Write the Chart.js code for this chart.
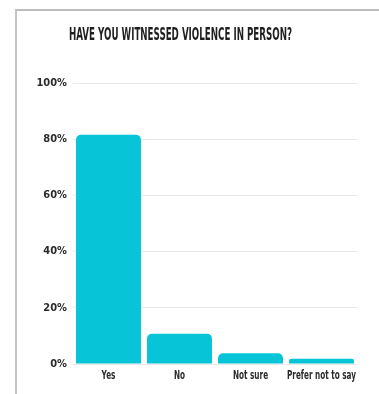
<!DOCTYPE html>
<html>
<head>
<meta charset="utf-8">
<script src="https://cdn.jsdelivr.net/npm/chart.js@4/dist/chart.umd.min.js"></script>
<style>
  html, body { margin: 0; padding: 0; background: #ffffff; width: 379px; height: 394px; overflow: hidden; }
  #frame { position: absolute; left: 15px; top: 9px; width: 364px; height: 385px; border-top: 2px solid #bdbdbd; border-left: 2px solid #c4c4c4; box-sizing: border-box; }
  #wrap { position: absolute; left: 0; top: 0; width: 379px; height: 394px; }
</style>
</head>
<body>
<div id="frame"></div>
<div id="wrap"><canvas id="c" width="379" height="394"></canvas></div>
<script>
const titleText = "HAVE YOU WITNESSED VIOLENCE IN PERSON?";
const categories = ["Yes", "No", "Not sure", "Prefer not to say"];
const percentValues = [81.6, 10.8, 3.8, 1.9];
const yTickValues = [0, 20, 40, 60, 80, 100];

const condensedFont = '"DejaVu Sans Condensed", sans-serif';

const textPlugin = {
  id: 'condensedText',
  afterDraw(chart) {
    const ctx = chart.ctx;
    // Title
    ctx.save();
    ctx.font = 'bold 18px ' + condensedFont;
    ctx.fillStyle = '#1f1f1f';
    ctx.textBaseline = 'alphabetic';
    ctx.textAlign = 'left';
    const w = ctx.measureText(titleText).width;
    ctx.translate(69, 40);
    ctx.scale(223 / w, 1);
    ctx.fillText(titleText, 0, 0);
    ctx.restore();

    // Category labels (condensed)
    const xs = chart.scales.x;
    ctx.save();
    ctx.font = 'bold 12px ' + condensedFont;
    ctx.fillStyle = '#2b2b2b';
    ctx.textBaseline = 'alphabetic';
    ctx.textAlign = 'center';
    const ref = ctx.measureText(categories[categories.length - 1]).width;
    const sx = 69 / ref;
    categories.forEach((lab, i) => {
      const px = xs.getPixelForTick(i);
      ctx.save();
      ctx.translate(px, 379);
      ctx.scale(sx, 1);
      ctx.fillText(lab, 0, 0);
      ctx.restore();
    });
    ctx.restore();
  }
};

new Chart(document.getElementById('c'), {
  type: 'bar',
  data: {
    labels: categories,
    datasets: [{
      data: percentValues,
      backgroundColor: '#07c5d6',
      borderRadius: { topLeft: 5, topRight: 5, bottomLeft: 0, bottomRight: 0 },
      borderSkipped: 'start',
      categoryPercentage: 1.0,
      barPercentage: 0.915
    }]
  },
  options: {
    responsive: false,
    animation: false,
    devicePixelRatio: 1,
    layout: { padding: { top: 83, right: 22, left: 0, bottom: 0 } },
    plugins: { legend: { display: false }, title: { display: false }, tooltip: { enabled: false } },
    scales: {
      x: {
        grid: { display: false, drawTicks: false },
        border: { display: false },
        ticks: { display: false },
        afterFit(scale) { scale.height = 30; }
      },
      y: {
        min: 0,
        max: 100,
        afterBuildTicks(scale) { scale.ticks = yTickValues.map(v => ({ value: v })); },
        grid: { color: '#e9e9e9', lineWidth: 1, drawTicks: false },
        border: { display: false },
        ticks: {
          padding: 6,
          color: '#2b2b2b',
          font: { family: condensedFont, weight: 'bold', size: 11 },
          callback: (v) => v + '%'
        },
        afterFit(scale) { scale.width = 73; }
      }
    }
  },
  plugins: [textPlugin]
});
</script>
</body>
</html>
